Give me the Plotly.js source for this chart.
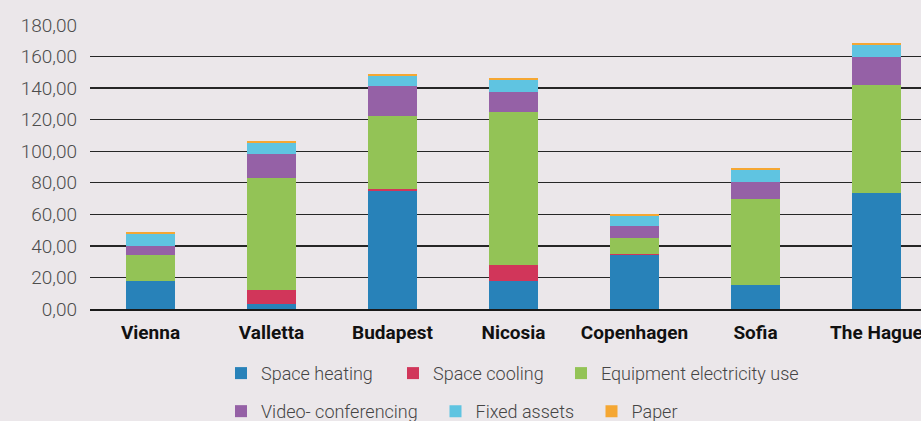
<!DOCTYPE html>
<html>
<head>
<meta charset="utf-8">
<script src="https://cdn.plot.ly/plotly-3.0.1.min.js"></script>
<style>
html,body{margin:0;padding:0;overflow:hidden;background:#ebe7ea;}
#chart{width:921px;height:421px;}
</style>
</head>
<body>
<div id="chart"></div>
<script>
const cities = ['Vienna','Valletta','Budapest','Nicosia','Copenhagen','Sofia','The Hague'];
const seriesNames = ['Space heating','Space cooling','Equipment electricity use','Video- conferencing','Fixed assets','Paper'];
const heating   = [17.6, 3.2, 74.7, 17.6, 34.1, 14.9, 73.5];
const cooling   = [0.0, 8.7, 1.3, 10.1, 0.8, 0.4, 0.0];
const equipment = [16.5, 71.1, 46.3, 97.2, 10.0, 54.5, 68.5];
const video     = [5.7, 15.2, 19.1, 12.7, 7.6, 10.7, 17.8];
const fixedAssets = [7.6, 7.0, 6.3, 7.6, 6.4, 7.9, 7.6];
const paper     = [1.3, 1.3, 1.3, 1.3, 1.2, 1.0, 1.3];
const yTicks = [0,20,40,60,80,100,120,140,160,180];

const values = [heating, cooling, equipment, video, fixedAssets, paper];
const colors = ['#2882b9','#d1365a','#93c356','#9561a6','#5fc4e1','#f5a733'];
const legendIds = ['legend','legend2','legend3','legend4','legend5','legend6'];

const FONT = 'Roboto, "Noto Sans", sans-serif';

const traces = values.map((v,i)=>({
  type:'bar', x:cities, y:v, name:seriesNames[i],
  marker:{color:colors[i], line:{width:0}},
  legend: legendIds[i], hoverinfo:'skip'
}));

function legendAt(px, py){
  return {
    x:(px-90)/831, xanchor:'left',
    y:(308.67-py)/283.67, yanchor:'middle',
    orientation:'h', bgcolor:'rgba(0,0,0,0)', borderwidth:0,
    font:{family:FONT, size:18, color:'#454545', weight:300}
  };
}

const layout = {
  width:921, height:421,
  paper_bgcolor:'#ebe7ea', plot_bgcolor:'#ebe7ea',
  margin:{l:90, r:0, t:25, b:112, autoexpand:false},
  barmode:'stack', bargap:0.59,
  separators:',.',
  showlegend:true,
  xaxis:{
    range:[-0.5, 6.368], showgrid:false, zeroline:false,
    showline:true, linecolor:'#1a1a1a', linewidth:1.5, layer:'above traces',
    ticks:'', ticklabelstandoff:6,
    tickfont:{family:FONT, size:19, color:'#111', weight:'bold'}
  },
  yaxis:{
    range:[0,180], tickvals:yTicks, tickformat:'.2f',
    showgrid:true, gridcolor:'#262626', gridwidth:1.3,
    zeroline:false, showline:false, ticks:'', ticklabelstandoff:12,
    tickfont:{family:FONT, size:19, color:'#4d4d4d', weight:300}
  },
  legend: legendAt(221, 373),
  legend2: legendAt(393, 373),
  legend3: legendAt(561, 373),
  legend4: legendAt(221, 411),
  legend5: legendAt(435.5, 411),
  legend6: legendAt(591.5, 411)
};

Plotly.newPlot('chart', traces, layout, {displayModeBar:false, staticPlot:true});
</script>
</body>
</html>
